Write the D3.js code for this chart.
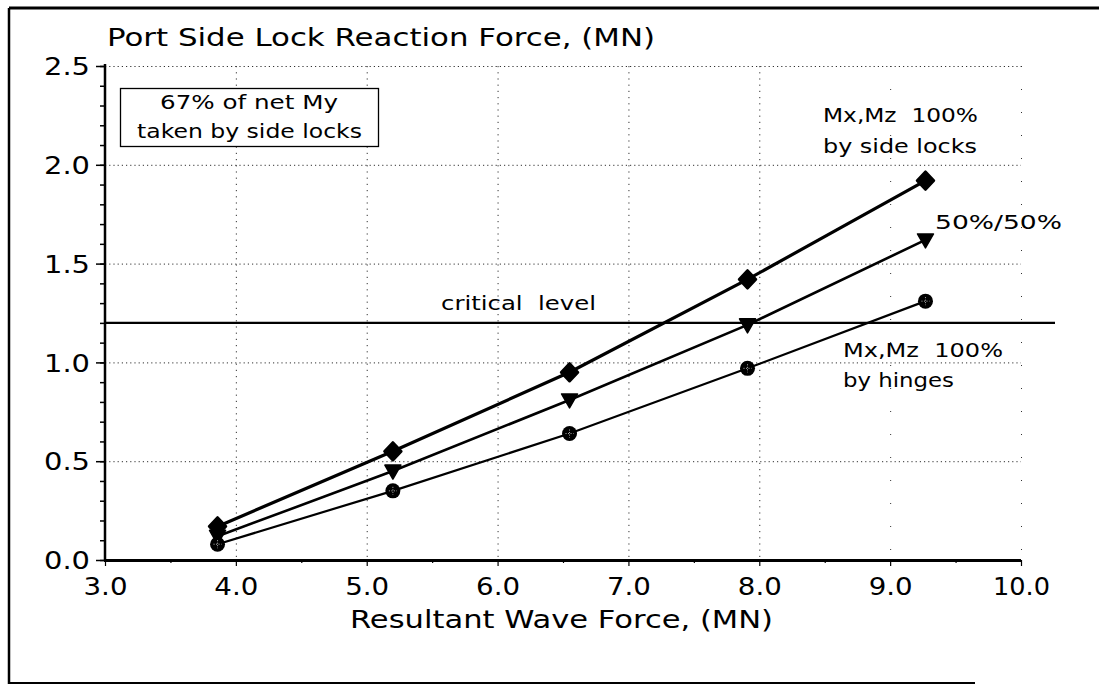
<!DOCTYPE html>
<html>
<head>
<meta charset="utf-8">
<script src="https://cdn.jsdelivr.net/npm/d3@7/dist/d3.min.js"></script>
<style>
  html, body { margin: 0; padding: 0; background: #fff; }
  svg text { font-family: "DejaVu Sans", "Liberation Sans", sans-serif; fill: #000; }
</style>
</head>
<body>
<svg id="chart" width="1099" height="685"></svg>
<script>
// Resultant wave force (MN) at each load case
const waveForce = [3.86, 5.20, 6.55, 7.91, 9.27];
// Port side lock reaction force (MN) for each moment distribution
const sideLocks = [0.17, 0.55, 0.95, 1.42, 1.92];
const fiftyFifty = [0.12, 0.45, 0.81, 1.19, 1.62];
const hinges = [0.08, 0.35, 0.64, 0.97, 1.31];
const criticalLevel = 1.2;
const xTicks = [3, 4, 5, 6, 7, 8, 9, 10];
const yTicks = [0, 0.5, 1.0, 1.5, 2.0, 2.5];

const svg = d3.select("#chart");
const W = 1099, H = 685;
const plot = { left: 105, right: 1021, top: 66, bottom: 560 };

const x = d3.scaleLinear().domain([3, 10]).range([plot.left, plot.right]);
const y = d3.scaleLinear().domain([0, 2.5]).range([plot.bottom, plot.top]);

// wide geometric lettering: stretch each string to its set width
const fit = (sel, len) => sel.attr("textLength", len).attr("lengthAdjust", "spacingAndGlyphs");

svg.append("rect").attr("width", W).attr("height", H).attr("fill", "#fff");

// outer frame (top, left, bottom)
const frame = svg.append("g").attr("stroke", "#000").attr("fill", "none");
frame.append("line").attr("x1", 9).attr("x2", W).attr("y1", 8).attr("y2", 8).attr("stroke-width", 3);
frame.append("line").attr("x1", 9).attr("x2", 9).attr("y1", 8).attr("y2", 684).attr("stroke-width", 2.5);
frame.append("line").attr("x1", 9).attr("x2", 975).attr("y1", 683).attr("y2", 683).attr("stroke-width", 2);

// dotted grid
const grid = svg.append("g").attr("stroke", "#000").attr("stroke-width", 1)
  .attr("stroke-dasharray", "1.2,3").attr("opacity", 0.8);
grid.selectAll("line.h").data(yTicks.filter(d => d > 0)).join("line")
  .attr("x1", plot.left).attr("x2", plot.right)
  .attr("y1", d => y(d) + 0.5).attr("y2", d => y(d) + 0.5);
grid.selectAll("line.v").data(xTicks.filter(d => d > 3)).join("line")
  .attr("y1", plot.top).attr("y2", plot.bottom)
  .attr("x1", d => x(d) + 0.5).attr("x2", d => x(d) + 0.5)
  .attr("stroke-dasharray", d => d >= 9 ? "1,22" : "1.2,5");

// y axis with minor ticks
const yAxis = d3.axisLeft(y).tickValues(yTicks).tickFormat(d3.format(".1f")).tickSize(9).tickPadding(6);
const yMinor = d3.axisLeft(y).tickValues(d3.range(0, 2.501, 0.1)).tickFormat("").tickSize(5);
const gyMinor = svg.append("g").attr("transform", `translate(${plot.left},0)`).call(yMinor);
const gy = svg.append("g").attr("transform", `translate(${plot.left},0)`).call(yAxis);
[gy, gyMinor].forEach(g => {
  g.select(".domain").remove();
  g.selectAll(".tick line").attr("stroke", "#000").attr("stroke-width", 1.5);
});
gy.selectAll(".tick text").attr("font-size", 24).attr("dy", "0.36em")
  .call(fit, 46);
svg.append("line").attr("x1", plot.left).attr("x2", plot.left)
  .attr("y1", plot.top - 2).attr("y2", plot.bottom + 1)
  .attr("stroke", "#000").attr("stroke-width", 2.5);

// x axis with minor ticks
const xAxis = d3.axisBottom(x).tickValues(xTicks).tickFormat(d3.format(".1f")).tickSize(6).tickPadding(6);
const xMinor = d3.axisBottom(x).tickValues(d3.range(3.5, 10, 1)).tickFormat("").tickSize(3);
const gxMinor = svg.append("g").attr("transform", `translate(0,${plot.bottom})`).call(xMinor);
const gx = svg.append("g").attr("transform", `translate(0,${plot.bottom})`).call(xAxis);
[gx, gxMinor].forEach(g => {
  g.select(".domain").remove();
  g.selectAll(".tick line").attr("stroke", "#000").attr("stroke-width", 1.2);
});
gx.selectAll(".tick text").attr("font-size", 24).attr("dy", "0.95em")
  .each(function (d) { fit(d3.select(this), d >= 10 ? 57 : 44); });
svg.append("line").attr("x1", plot.left - 1).attr("x2", plot.right)
  .attr("y1", plot.bottom + 0.5).attr("y2", plot.bottom + 0.5)
  .attr("stroke", "#000").attr("stroke-width", 3);

// axis titles
svg.append("text").attr("x", 107).attr("y", 46).attr("font-size", 25)
  .text("Port Side Lock Reaction Force, (MN)").call(fit, 548);
svg.append("text").attr("x", 350).attr("y", 628).attr("font-size", 25)
  .text("Resultant Wave Force, (MN)").call(fit, 423);

// critical level
svg.append("line").attr("x1", plot.left).attr("x2", 1055)
  .attr("y1", y(criticalLevel)).attr("y2", y(criticalLevel))
  .attr("stroke", "#000").attr("stroke-width", 2.2);
svg.append("text").attr("x", 441).attr("y", y(criticalLevel) - 13)
  .attr("font-size", 19).attr("xml:space", "preserve")
  .text("critical  level").call(fit, 155);

// series lines and markers
const seriesList = [
  { name: "sideLocks", values: sideLocks, width: 3.2, symbol: "diamond" },
  { name: "fiftyFifty", values: fiftyFifty, width: 2.6, symbol: "triangle" },
  { name: "hinges", values: hinges, width: 2.2, symbol: "circle" }
];
const line = d3.line().x(d => x(d[0])).y(d => y(d[1]));

seriesList.forEach(s => {
  const pts = waveForce.map((f, i) => [f, s.values[i]]);
  svg.append("path").datum(pts).attr("d", line)
    .attr("fill", "none").attr("stroke", "#000").attr("stroke-width", s.width);
});

seriesList.forEach(s => {
  const pts = waveForce.map((f, i) => [f, s.values[i]]);
  const g = svg.append("g");
  pts.forEach(p => {
    const cx = x(p[0]), cy = y(p[1]);
    if (s.symbol === "diamond") {
      g.append("path")
        .attr("d", `M${cx},${cy - 9}L${cx + 8.5},${cy}L${cx},${cy + 9}L${cx - 8.5},${cy}Z`)
        .attr("fill", "#000").attr("stroke", "#000").attr("stroke-width", 2.5)
        .attr("stroke-linejoin", "round");
    } else if (s.symbol === "triangle") {
      g.append("path")
        .attr("d", `M${cx - 8},${cy - 6}L${cx + 8},${cy - 6}L${cx},${cy + 8}Z`)
        .attr("fill", "#000").attr("stroke", "#000").attr("stroke-width", 1.5)
        .attr("stroke-linejoin", "round");
    } else {
      g.append("circle").attr("cx", cx).attr("cy", cy).attr("r", 7.5).attr("fill", "#000");
      g.append("path")
        .attr("d", `M${cx - 4},${cy}H${cx + 4}M${cx},${cy - 4}V${cy + 4}`)
        .attr("stroke", "#fff").attr("stroke-width", 1).attr("stroke-dasharray", "1,1.5")
        .attr("opacity", 0.7);
    }
  });
});

// series annotations
const note = (lines, x0, y0, size, lh, widths) => {
  const t = svg.append("text").attr("font-size", size).attr("xml:space", "preserve");
  lines.forEach((l, i) => t.append("tspan").attr("x", x0[i] ?? x0[0]).attr("y", y0 + i * lh)
    .text(l).call(fit, widths[i]));
};
note(["Mx,Mz  100%", "by side locks"], [823], 122, 19.5, 31, [155, 154]);
note(["50%/50%"], [935], 229, 19.5, 0, [127]);
note(["Mx,Mz  100%", "by hinges"], [843], 357, 19.5, 30, [160, 111]);

// boxed note
svg.append("rect").attr("x", 120.5).attr("y", 88.5).attr("width", 258).attr("height", 58)
  .attr("fill", "#fff").attr("stroke", "#000").attr("stroke-width", 1.3);
note(["67% of net My", "taken by side locks"], [160, 137], 109, 19.5, 29, [178, 225]);
</script>
</body>
</html>
